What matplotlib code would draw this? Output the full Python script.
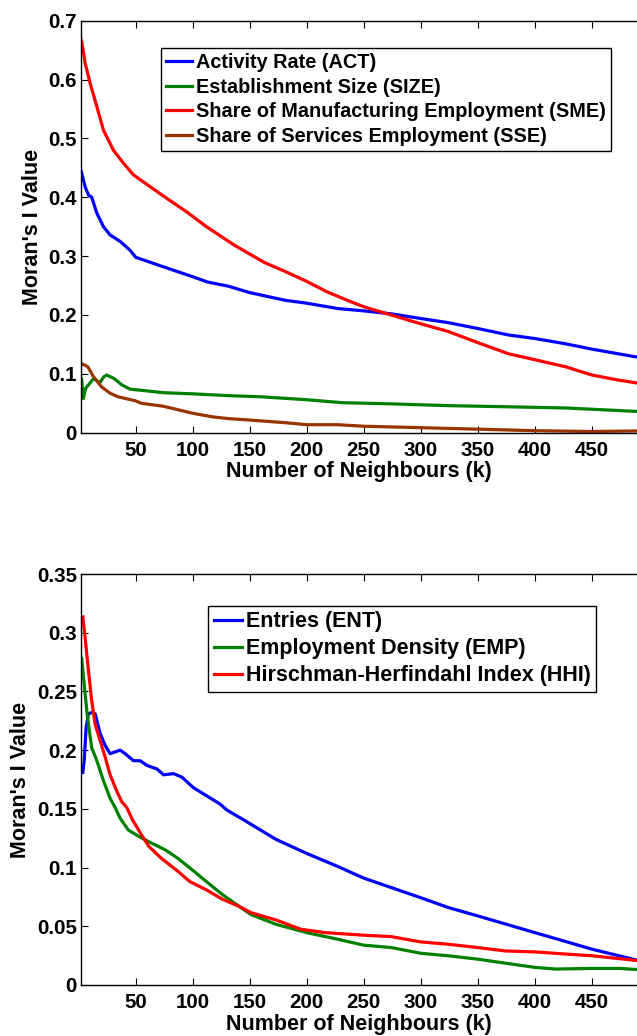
import matplotlib
matplotlib.use("Agg")
import matplotlib.pyplot as plt

plt.rcParams['font.family'] = ['Liberation Sans', 'DejaVu Sans']
plt.rcParams['font.weight'] = 'bold'

# ---- Top panel data ----
act_k = [2, 3, 5.6, 8.5, 11.4, 15.9, 21.7, 27.5, 36.3, 45, 50, 74, 100, 113, 131, 150, 181, 200, 227, 250, 274, 300, 324, 350, 377, 400, 427, 450, 491]
act_v = [0.445, 0.438, 0.418, 0.404, 0.400, 0.373, 0.350, 0.336, 0.325, 0.310, 0.298, 0.282, 0.265, 0.256, 0.249, 0.238, 0.225, 0.220, 0.211, 0.207, 0.202, 0.194, 0.187, 0.177, 0.166, 0.160, 0.151, 0.142, 0.128]

size_k = [2, 2.5, 4, 6, 8, 13, 18.6, 22, 24.6, 31, 38, 45, 60, 74, 100, 131, 160, 200, 231, 274, 324, 377, 427, 491]
size_v = [0.090, 0.092, 0.058, 0.075, 0.080, 0.092, 0.085, 0.095, 0.098, 0.092, 0.081, 0.074, 0.071, 0.068, 0.066, 0.063, 0.061, 0.056, 0.051, 0.049, 0.046, 0.044, 0.042, 0.036]

sme_k = [2, 2.7, 5.6, 10, 15.9, 21.7, 30.4, 39.2, 48, 62.6, 77.3, 94.8, 112, 137, 163, 181, 200, 217, 238, 250, 274, 300, 324, 350, 377, 400, 427, 450, 473, 491]
sme_v = [0.668, 0.664, 0.628, 0.594, 0.554, 0.514, 0.480, 0.458, 0.438, 0.418, 0.398, 0.375, 0.350, 0.318, 0.289, 0.274, 0.257, 0.240, 0.223, 0.214, 0.200, 0.185, 0.172, 0.153, 0.134, 0.124, 0.112, 0.098, 0.0895, 0.084]

sse_k = [2, 3, 8, 13, 20, 27.5, 34.6, 50, 55, 74, 85, 100, 117, 131, 150, 181, 200, 227, 250, 300, 350, 400, 450, 491]
sse_v = [0.115, 0.117, 0.112, 0.095, 0.078, 0.067, 0.061, 0.054, 0.050, 0.045, 0.040, 0.033, 0.027, 0.024, 0.0215, 0.017, 0.0136, 0.0136, 0.011, 0.0085, 0.006, 0.0034, 0.002, 0.003]

# ---- Bottom panel data ----
ent_k = [3.6, 4.8, 6.5, 8.5, 11.4, 14.4, 18.8, 23.2, 27.5, 33.4, 36.3, 40.7, 48, 53.9, 59.8, 68.5, 74.4, 83.2, 90.5, 100.6, 112.4, 124, 129.9, 144, 173, 200, 227, 250, 274, 300, 324, 350, 374, 400, 425, 450, 492]
ent_v = [0.181, 0.191, 0.219, 0.231, 0.232, 0.231, 0.214, 0.204, 0.197, 0.199, 0.200, 0.197, 0.191, 0.191, 0.187, 0.184, 0.179, 0.180, 0.177, 0.168, 0.161, 0.154, 0.149, 0.141, 0.124, 0.112, 0.101, 0.091, 0.083, 0.0743, 0.066, 0.0588, 0.052, 0.0446, 0.0376, 0.0305, 0.0206]

emp_k = [2.6, 5.6, 7.7, 11.4, 15.9, 21.7, 27.5, 32, 36.3, 43.5, 52.5, 61.5, 76, 86.7, 97.5, 112, 126, 140.6, 151, 173, 200, 227, 250, 274, 300, 324, 350, 374, 400, 418, 450, 475, 492]
emp_v = [0.278, 0.248, 0.228, 0.202, 0.191, 0.174, 0.159, 0.151, 0.142, 0.132, 0.1266, 0.122, 0.115, 0.108, 0.0997, 0.088, 0.077, 0.067, 0.060, 0.0517, 0.0446, 0.039, 0.0339, 0.0319, 0.027, 0.0249, 0.022, 0.0186, 0.015, 0.0136, 0.0141, 0.0141, 0.013]

hhi_k = [3.6, 5.6, 8.5, 11.4, 14.4, 18.8, 23.2, 27.5, 33.4, 37.8, 42.2, 47, 54.3, 61.5, 72.3, 86.7, 97.5, 112, 126, 140.6, 151, 173, 194.6, 216, 250, 274, 300, 324, 350, 374, 400, 428, 450, 492]
hhi_v = [0.3135, 0.296, 0.268, 0.242, 0.222, 0.208, 0.194, 0.179, 0.165, 0.156, 0.151, 0.141, 0.129, 0.118, 0.108, 0.097, 0.088, 0.081, 0.073, 0.067, 0.0616, 0.0554, 0.0475, 0.0446, 0.0424, 0.0412, 0.0367, 0.0347, 0.0319, 0.029, 0.0282, 0.0263, 0.0249, 0.0206]

top_labels = ['Activity Rate (ACT)', 'Establishment Size (SIZE)',
              'Share of Manufacturing Employment (SME)', 'Share of Services Employment (SSE)']
bot_labels = ['Entries (ENT)', 'Employment Density (EMP)', 'Hirschman-Herfindahl Index (HHI)']
x_ticks = [50, 100, 150, 200, 250, 300, 350, 400, 450]
top_yticks = [0, 0.1, 0.2, 0.3, 0.4, 0.5, 0.6, 0.7]
bot_yticks = [0, 0.05, 0.1, 0.15, 0.2, 0.25, 0.3, 0.35]

BLUE = (0, 0, 1)
GREEN = (0, 0.5, 0)
RED = (1, 0, 0)
BROWN = (0.6, 0.2, 0)

W, H = 637, 1036
fig = plt.figure(figsize=(W / 100, H / 100), dpi=100)

left = 81 / W
width = (637.5 - 81) / W
ax1 = fig.add_axes([left, 1 - 432.7 / H, width, 412 / H])
ax2 = fig.add_axes([left, 1 - 985 / H, width, 411 / H])

TICK_FS = 14.8
LAB_FS = 15.5
LW = 2.3

def style(ax, yticks, ylim):
    ax.set_xlim(2, 490)
    ax.set_ylim(*ylim)
    ax.set_xticks(x_ticks)
    ax.set_yticks(yticks)
    ax.set_yticklabels([('%g' % t) for t in yticks])
    ax.tick_params(direction='in', length=5, width=0.8, top=True, right=False,
                   labelsize=TICK_FS)
    ax.tick_params(axis='x', pad=6)
    ax.tick_params(axis='y', pad=3)
    ax.spines['right'].set_visible(False)
    for s in ['left', 'top', 'bottom']:
        ax.spines[s].set_linewidth(1.0)
    ax.set_xlabel('Number of Neighbours (k)', fontsize=LAB_FS, fontweight='bold', labelpad=1)
    ax.set_ylabel("Moran's I Value", fontsize=LAB_FS, fontweight='bold', labelpad=4)
    for lab in ax.get_xticklabels() + ax.get_yticklabels():
        lab.set_fontweight('bold')

ax1.plot(act_k, act_v, color=BLUE, lw=LW, label=top_labels[0])
ax1.plot(size_k, size_v, color=GREEN, lw=LW, label=top_labels[1])
ax1.plot(sme_k, sme_v, color=RED, lw=LW, label=top_labels[2])
ax1.plot(sse_k, sse_v, color=BROWN, lw=LW, label=top_labels[3])
style(ax1, top_yticks, (0, 0.7))

ax2.plot(ent_k, ent_v, color=BLUE, lw=LW, label=bot_labels[0])
ax2.plot(emp_k, emp_v, color=GREEN, lw=LW, label=bot_labels[1])
ax2.plot(hhi_k, hhi_v, color=RED, lw=LW, label=bot_labels[2])
style(ax2, bot_yticks, (0, 0.35))

leg_kw = dict(loc='upper left', frameon=True, fancybox=False,
              framealpha=1, edgecolor='black', borderaxespad=0,
              handlelength=1.3, handletextpad=0.2, borderpad=0.25, labelspacing=0.28)
aw = 637.5 - 81
l1 = ax1.legend(bbox_to_anchor=((161 - 81) / aw, (432.7 - 48) / 412), fontsize=14.3, **leg_kw)
l2 = ax2.legend(bbox_to_anchor=((208.3 - 81) / aw, (985 - 606) / 411), fontsize=15.5, **leg_kw)
for lg in (l1, l2):
    lg.get_frame().set_linewidth(1.0)
    for t in lg.get_texts():
        t.set_fontweight('bold')

fig.savefig('out.png', dpi=100)
